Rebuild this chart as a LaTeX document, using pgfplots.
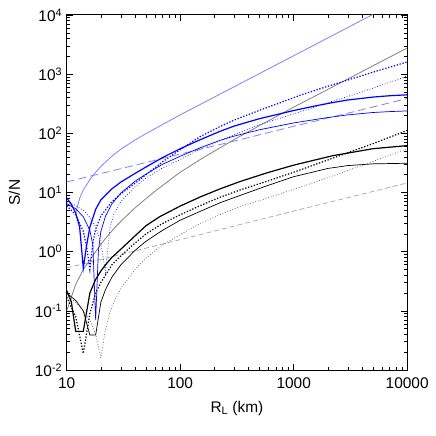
\documentclass[border=0pt]{standalone}
\usepackage{pgfplots}
\pgfplotsset{compat=1.18}
\usepackage{fontspec}
\setmainfont{Liberation Sans}
\definecolor{lblue}{RGB}{128,128,255}
\definecolor{gsolid}{RGB}{128,128,128}
\definecolor{gdash}{RGB}{165,165,165}
\definecolor{gdot}{RGB}{70,70,70}
\begin{document}
\begin{tikzpicture}
\begin{axis}[
  scale only axis, width=340.5bp, height=355bp,
  xmode=log, ymode=log,
  xmin=10, xmax=10000, ymin=1e-2, ymax=1e4,
  xtick={10,100,1000,10000}, xticklabels={10,100,1000,10000},
  ytick={1e-2,1e-1,1,10,100,1000,1e4},
  yticklabels={10\textsuperscript{-2},10\textsuperscript{-1},10\textsuperscript{0},10\textsuperscript{1},10\textsuperscript{2},10\textsuperscript{3},10\textsuperscript{4}},
  tick label style={font=\fontsize{15.5}{18}\selectfont},
  xticklabel style={yshift=-4bp},
  yticklabel style={xshift=-1bp},
  label style={font=\fontsize{15.5}{18}\selectfont},
  xlabel={R\textsubscript{L} (km)}, ylabel={S/N},
  xlabel style={yshift=-6bp},
  ylabel style={yshift=8bp},
  tick align=inside, major tick length=6bp, minor tick length=3bp,
  axis line style={line width=1bp},
  every tick/.style={black, line width=0.6bp},
]
\coordinate (bl) at (rel axis cs:0,0);
\coordinate (tr) at (rel axis cs:1,1);
% light blue reference lines
\addplot[lblue, line width=0.8bp] coordinates {(12,4.5) (13,8) (14,11) (16,16.5) (18,22) (20,27.5) (25,41) (30,54) (40,77) (50,99) (70,141) (100,205) (200,410) (500,1025) (1000,2050) (2000,4100) (5000,10250)};
\addplot[lblue, line width=0.8bp, dash pattern=on 8bp off 4bp] coordinates {(10,15.1) (30,25.3) (100,44.6) (300,74) (1000,131.6) (3000,219) (10000,388)};
% gray reference lines
\addplot[gsolid, line width=0.8bp] coordinates {(10,0.1) (12,0.28) (14,0.5) (16,0.72) (18,1.0) (21,1.5) (24,2.05) (28,2.85) (34,4.1) (40,5.5) (50,7.9) (60,10.5) (80,16) (100,22) (150,36) (200,50) (300,79) (500,135) (1000,277) (3000,830) (10000,2770)};
\addplot[gdash, line width=0.7bp, dash pattern=on 5bp off 3bp] coordinates {(10,0.53) (100,1.6) (1000,4.85) (10000,14.5)};
% blue curves
\addplot[blue, line width=1.2bp] coordinates {(10,8.1) (11,6.3) (12,4.5) (13,2.6) (14,0.53) (15,1.3) (16,2.6) (18,5.2) (20,7.5) (25,11.5) (30,15) (40,21) (50,27) (70,39) (100,55) (150,78) (224,108) (300,133) (500,177) (713,208) (1000,243) (1500,287) (2223,332) (3000,366) (5000,410) (7000,432) (10000,448)};
\addplot[blue, line width=1.2bp, dash pattern=on 1.3bp off 1.7bp] coordinates {(10,6) (12,4.2) (14,2.2) (15,1.2) (16,0.5) (17,1.4) (18,2.4) (20,4.0) (25,7.0) (30,9.5) (40,14.3) (50,20) (70,33) (100,53) (150,88) (224,130) (300,168) (500,245) (700,310) (1137,440) (2000,625) (3000,797) (5000,1081) (10000,1610)};
\addplot[blue, line width=0.7bp] coordinates {(10,6.5) (12,5.3) (14,3.9) (16,2.3) (17,1.3) (18,0.07) (19,1.0) (20,2.2) (22,4.0) (25,6.4) (30,9.8) (40,15.5) (50,20.5) (70,30) (100,41) (150,57) (224,76) (300,90) (500,115) (1000,150) (2000,185) (3000,205) (5000,225) (7000,233) (10000,239)};
\addplot[blue, line width=0.7bp, dotted] coordinates {(10,7) (12,6) (14,5) (16,3.8) (18,2.6) (20,1.4) (22,0.44) (24,2.5) (26,4.3) (30,7.0) (40,12.5) (50,17.5) (70,26) (100,36) (150,54) (224,75) (300,95) (500,140) (1137,230) (2000,330) (3000,420) (5000,580) (10000,931)};
% black curves
\addplot[black, line width=1.2bp] coordinates {(10,0.22) (11,0.14) (12,0.045) (14,0.045) (16,0.2) (18,0.34) (20,0.47) (22,0.6) (25,0.8) (30,1.1) (40,1.85) (50,2.75) (66,3.9) (100,5.9) (150,8.4) (224,11.5) (336,15.3) (582,21.5) (1000,29) (2223,42) (5000,55) (10000,62)};
\addplot[black, line width=1.2bp, dash pattern=on 1.3bp off 1.7bp] coordinates {(10,0.17) (12,0.08) (14,0.019) (16,0.09) (18,0.2) (20,0.3) (25,0.6) (30,0.85) (40,1.4) (50,2.0) (70,3.0) (100,4.2) (150,6.0) (224,8.3) (336,11) (582,15.5) (1000,22) (2000,35.5) (3000,47) (5000,67) (10000,112)};
\addplot[black, line width=0.7bp] coordinates {(10,0.2) (12,0.15) (14,0.1) (16,0.039) (18,0.039) (20,0.14) (22,0.23) (25,0.37) (30,0.6) (40,1.05) (50,1.5) (70,2.3) (100,3.4) (150,4.8) (224,6.7) (336,8.9) (582,13) (1000,18.5) (2000,25.5) (3000,28.5) (5000,30.5) (10000,31.2)};
\addplot[gdot, line width=0.7bp, dotted] coordinates {(10,0.18) (12,0.14) (14,0.1) (16,0.07) (18,0.04) (20,0.016) (22,0.05) (25,0.12) (30,0.24) (40,0.5) (50,0.78) (70,1.3) (100,1.95) (150,3.0) (224,4.2) (336,5.8) (582,8.0) (1137,12.3) (2000,17.8) (3000,23.5) (5000,33.5) (10000,55)};
\end{axis}
\path ([shift={(-66.7bp,-66bp)}]bl) rectangle ([shift={(28.8bp,15bp)}]tr);
\end{tikzpicture}
\end{document}
